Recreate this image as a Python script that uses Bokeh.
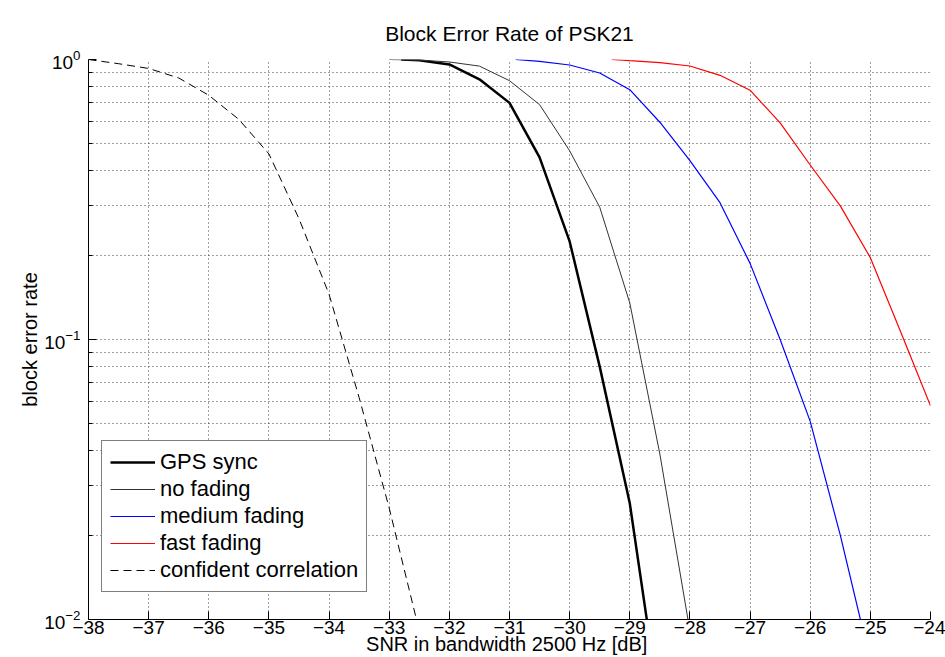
from bokeh.plotting import figure
from bokeh.models import FixedTicker, Range1d
from bokeh.embed import file_html
from bokeh.resources import INLINE

# ---- data ----
snr_gps = [-32.8, -32.5, -32.0, -31.5, -31.0, -30.5, -30.0, -29.5, -29.0, -28.5]
ber_gps = [1.0, 0.993, 0.96, 0.85, 0.70, 0.447, 0.224, 0.08, 0.026, 0.0048]

snr_nofade = [-33.0, -32.5, -32.0, -31.5, -31.0, -30.5, -30.0, -29.5, -29.0, -28.5, -28.0]
ber_nofade = [1.0, 0.995, 0.98, 0.947, 0.84, 0.69, 0.472, 0.297, 0.135, 0.039, 0.0091]

snr_medium = [-30.9, -30.5, -30.0, -29.5, -29.0, -28.5, -28.0, -27.5, -27.0, -26.5, -26.0, -25.5, -25.0]
ber_medium = [1.0, 0.985, 0.956, 0.895, 0.78, 0.597, 0.435, 0.308, 0.187, 0.100, 0.051, 0.020, 0.0071]

snr_fast = [-29.3, -29.0, -28.5, -28.0, -27.5, -27.0, -26.5, -26.0, -25.5, -25.0, -24.5, -24.0]
ber_fast = [1.0, 0.99, 0.975, 0.948, 0.878, 0.777, 0.594, 0.42, 0.30, 0.196, 0.107, 0.058]

snr_conf = [-38.0, -37.5, -37.0, -36.5, -36.0, -35.5, -35.0, -34.5, -34.0, -33.5, -33.0, -32.5]
ber_conf = [1.0, 0.966, 0.929, 0.859, 0.745, 0.611, 0.46, 0.27, 0.145, 0.062, 0.025, 0.0091]

x_ticks = [-38, -37, -36, -35, -34, -33, -32, -31, -30, -29, -28, -27, -26, -25, -24]
y_major = [0.01, 0.1, 1.0]
y_minor = [0.02, 0.03, 0.04, 0.05, 0.06, 0.07, 0.08, 0.09,
           0.2, 0.3, 0.4, 0.5, 0.6, 0.7, 0.8, 0.9]

FONT = "Liberation Sans"

p = figure(width=945, height=657, y_axis_type="log",
           x_range=Range1d(-38, -24), y_range=Range1d(0.01, 1.0),
           output_backend="svg", toolbar_location=None,
           title="Block Error Rate of PSK21",
           min_border_left=88, min_border_right=15, min_border_top=59,
           min_border_bottom=5)

p.background_fill_color = "white"
p.border_fill_color = "white"
p.outline_line_color = None

p.title.text_font = FONT
p.title.text_font_size = "21px"
p.title.text_font_style = "normal"
p.title.align = "center"
p.title.standoff = 29
p.title.text_color = "black"

# axes
p.xaxis.ticker = FixedTicker(ticks=x_ticks)
p.yaxis.ticker = FixedTicker(ticks=y_major, minor_ticks=y_minor)
for ax in (p.xaxis[0], p.yaxis[0]):
    ax.axis_line_color = "black"
    ax.axis_line_width = 1
    ax.major_tick_line_color = "black"
    ax.major_tick_in = 8
    ax.major_tick_out = 0
    ax.major_label_text_font = FONT
    ax.major_label_text_color = "black"
    ax.axis_label_text_font = FONT
    ax.axis_label_text_font_style = "normal"
    ax.axis_label_text_color = "black"
p.yaxis.minor_tick_line_color = "black"
p.yaxis.minor_tick_in = 4
p.yaxis.minor_tick_out = 0
p.xaxis.minor_tick_line_color = None

p.xaxis.major_label_text_font_size = "19px"
p.yaxis.major_label_text_font_size = "19px"
p.xaxis.major_label_standoff = 1
p.yaxis.major_label_standoff = 8
p.xaxis.axis_label = "SNR in bandwidth 2500 Hz  [dB]"
p.yaxis.axis_label = "block error rate"
p.xaxis.axis_label_text_font_size = "20px"
p.yaxis.axis_label_text_font_size = "20px"
p.xaxis.axis_label_standoff = -4
p.yaxis.axis_label_standoff = 0

# grid
GRID = "#404040"
p.xgrid.grid_line_color = GRID
p.xgrid.grid_line_dash = "1 3"
p.ygrid.grid_line_color = GRID
p.ygrid.grid_line_dash = "1 3"
p.ygrid.minor_grid_line_color = GRID
p.ygrid.minor_grid_line_dash = "1 3"

# curves
p.line(snr_gps, ber_gps, line_color="black", line_width=2.5, legend_label="GPS sync")
p.line(snr_nofade, ber_nofade, line_color="#333333", line_width=1, legend_label="no fading")
p.line(snr_medium, ber_medium, line_color="#0000ff", line_width=1.2, legend_label="medium fading")
p.line(snr_fast, ber_fast, line_color="#ff0000", line_width=1.2, legend_label="fast fading")
p.line(snr_conf, ber_conf, line_color="black", line_width=1, line_dash="8 5",
       legend_label="confident correlation")

legend = p.legend[0]
legend.location = (13, 27)
legend.label_text_font = FONT
legend.label_text_font_size = "22px"
legend.label_text_color = "black"
legend.border_line_color = "black"
legend.border_line_width = 1
legend.background_fill_color = "white"
legend.background_fill_alpha = 1.0
legend.padding = 8
legend.spacing = 1
legend.margin = 0
legend.glyph_width = 45
legend.glyph_height = 20
legend.label_height = 20
legend.label_standoff = 5

open("out.html", "w").write(file_html(p, INLINE))
